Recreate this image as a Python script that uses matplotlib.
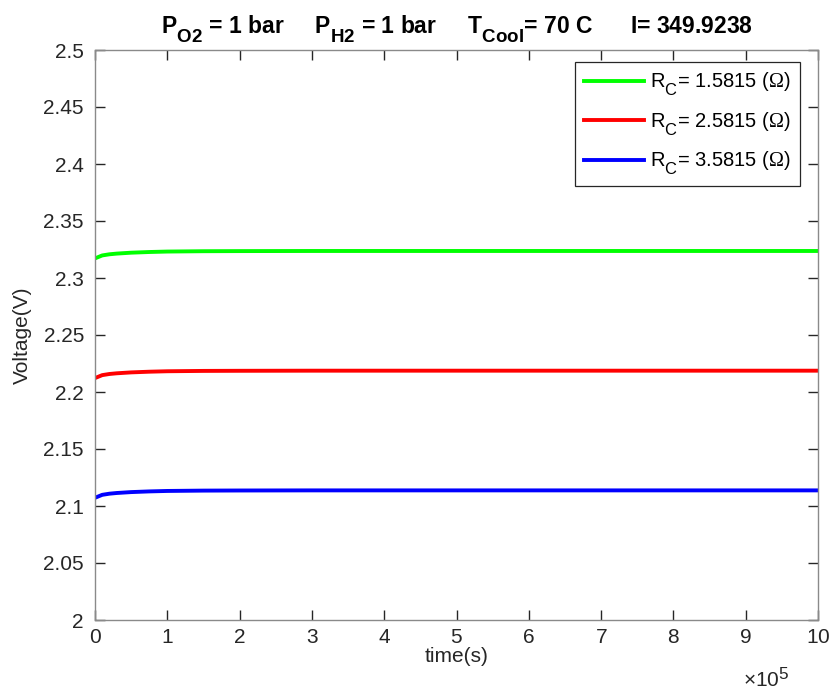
import matplotlib
matplotlib.use('Agg')
import matplotlib.pyplot as plt
from matplotlib.ticker import FuncFormatter, MultipleLocator

# subindices estilo MATLAB: mas grandes y mas abajo
try:
    import matplotlib._mathtext as mt
    mt.SHRINK_FACTOR = 0.82
    mt.FontConstantsBase.sub1 = 0.75
    mt.FontConstantsBase.sub2 = 0.75
    mt.FontConstantsBase.subdrop = 0.75
except Exception:
    pass

plt.rcParams['font.family'] = ['Liberation Sans', 'DejaVu Sans']
plt.rcParams['mathtext.fontset'] = 'custom'
plt.rcParams['mathtext.rm'] = 'Liberation Sans'
plt.rcParams['mathtext.it'] = 'Liberation Sans'
plt.rcParams['mathtext.bf'] = 'Liberation Sans:bold'
plt.rcParams['mathtext.sf'] = 'Liberation Serif'
plt.rcParams['mathtext.default'] = 'regular'

# tiempo (s)
t = [0, 5e3, 1e4, 2e4, 3e4, 5e4, 7.5e4, 1e5, 1.5e5, 2e5, 3e5, 5e5, 1e6]

# voltaje para cada resistencia
v_r1 = [2.3172, 2.3185, 2.3198, 2.3208, 2.3214, 2.3222, 2.3228, 2.3232, 2.3235, 2.3236, 2.3237, 2.3237, 2.3237]
v_r2 = [2.2122, 2.2135, 2.2148, 2.2158, 2.2164, 2.2172, 2.2178, 2.2182, 2.2185, 2.2186, 2.2187, 2.2187, 2.2187]
v_r3 = [2.1072, 2.1085, 2.1098, 2.1108, 2.1114, 2.1122, 2.1128, 2.1132, 2.1135, 2.1136, 2.1137, 2.1137, 2.1137]

etiquetas = ['R$_C$= 1.5815 ($\\mathsf{\\Omega}$)', 'R$_C$= 2.5815 ($\\mathsf{\\Omega}$)',
             'R$_C$= 3.5815 ($\\mathsf{\\Omega}$)']
colores = ['#00ff00', '#ff0000', '#0000ff']

fig = plt.figure(figsize=(8.32, 6.93), dpi=100)
ax = fig.add_axes([95/832, 1-620/693, (818-95)/832, (620-50)/693])

for v, lab, c in zip([v_r1, v_r2, v_r3], etiquetas, colores):
    ax.plot(t, v, color=c, linewidth=2.8, label=lab)

ax.set_xlim(0, 1e6)
ax.set_ylim(2, 2.5)
ax.xaxis.set_major_locator(MultipleLocator(1e5))
ax.yaxis.set_major_locator(MultipleLocator(0.05))
ax.ticklabel_format(axis='x', style='sci', scilimits=(5, 5), useMathText=True)
ax.yaxis.set_major_formatter(FuncFormatter(lambda y, p: '%g' % round(y, 3)))

ax.tick_params(direction='in', length=7, width=1.0, labelsize=15, colors='#262626',
               top=True, right=True)
ax.tick_params(axis='x', pad=6)
ax.tick_params(axis='y', pad=8)
for s in ax.spines.values():
    s.set_color('#8a8a8a')
    s.set_linewidth(1.0)
ax.xaxis.OFFSETTEXTPAD = 14
ot = ax.xaxis.get_offset_text()
ot.set_fontsize(15)
ot.set_x(0.96)

ax.set_xlabel('time(s)', fontsize=15, color='#262626', labelpad=0)
ax.set_ylabel('Voltage(V)', fontsize=15, color='#262626', labelpad=8)
ax.set_title('P$_{O2}$ = 1 bar     P$_{H2}$ = 1 bar     T$_{Cool}$= 70 C      I= 349.9238',
             fontsize=16.5, fontweight='bold', pad=12)

leg = ax.legend(loc='upper right', bbox_to_anchor=(0.975, 0.979), borderaxespad=0,
                fontsize=14.5, fancybox=False, framealpha=1,
                edgecolor='#262626', handlelength=3.0, handletextpad=0.3,
                borderpad=0.45, labelspacing=0.6)
leg.get_frame().set_linewidth(0.9)

plt.savefig('out.png', dpi=100)
